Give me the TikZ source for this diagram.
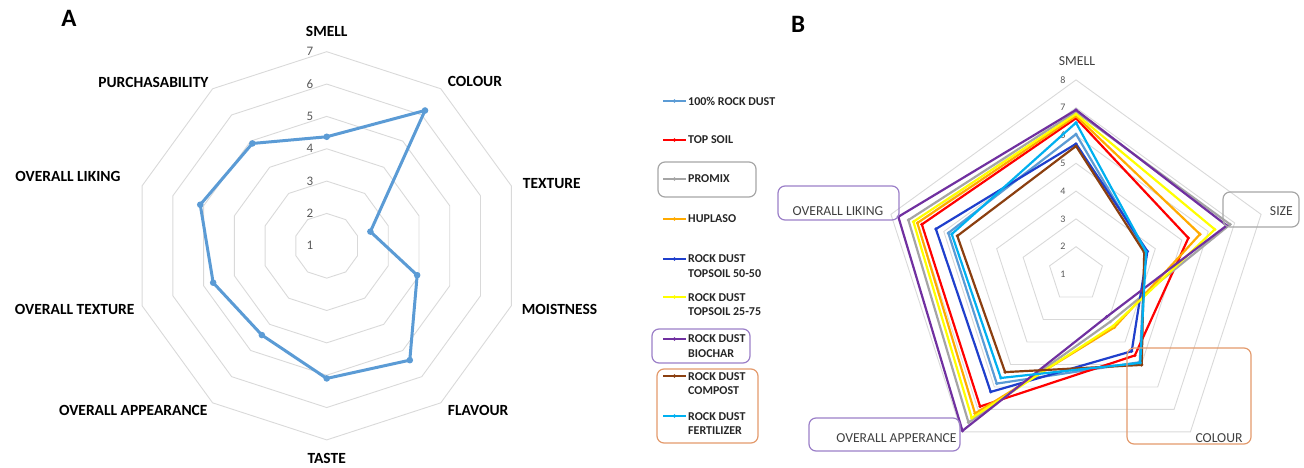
\documentclass[tikz,border=0pt]{standalone}
\usepackage{fontspec}
\setmainfont{Carlito}
\usetikzlibrary{positioning}

\definecolor{gridgray}{HTML}{D9D9D9}
\definecolor{tickgray}{HTML}{595959}
\definecolor{labelgray}{HTML}{404040}
\definecolor{rockdust}{HTML}{5B9BD5}
\definecolor{topsoil}{HTML}{FF0000}
\definecolor{promix}{HTML}{A5A5A5}
\definecolor{huplaso}{HTML}{FFAA00}
\definecolor{mixfifty}{HTML}{1F3FCC}
\definecolor{mixquarter}{HTML}{FFFF00}
\definecolor{biochar}{HTML}{7030A0}
\definecolor{compost}{HTML}{8B3F10}
\definecolor{fertilizer}{HTML}{00B0F0}
\definecolor{boxgray}{HTML}{A6A6A6}
\definecolor{boxpurple}{HTML}{9B7FC8}
\definecolor{boxorange}{HTML}{E39A6C}

\newcommand{\unitA}{32.35}
\newcommand{\unitB}{27.8}
% one series of panel B: colour, smell, size, colour axis, appearance, liking
\newcommand{\seriesB}[6]{%
  \draw[seriesline, #1] (90:{(#2-1)*\unitB}) -- (18:{(#3-1)*\unitB}) -- (-54:{(#4-1)*\unitB})
    -- (-126:{(#5-1)*\unitB}) -- (162:{(#6-1)*\unitB}) -- cycle;
  \foreach \a/\v in {90/#2,18/#3,-54/#4,-126/#5,162/#6}
    \fill[#1] (\a:{(\v-1)*\unitB}) circle (1.8);
}

\begin{document}
\begin{tikzpicture}[
    x=1pt, y=1pt,
    every node/.style={inner sep=0pt},
    grid/.style={draw=gridgray, line width=0.9pt},
    panellabel/.style={font=\fontsize{25}{30}\selectfont\bfseries},
    axislabel/.style={font=\fontsize{15.5}{18}\selectfont\bfseries},
    ticklabelA/.style={font=\fontsize{13}{15}\selectfont, text=tickgray},
    ticklabelB/.style={font=\fontsize{10}{12}\selectfont, text=tickgray},
    blabel/.style={font=\fontsize{13.7}{16}\selectfont, text=labelgray},
    legendtext/.style={font=\fontsize{12}{14.5}\selectfont\bfseries, align=left, anchor=west, text=black!85},
    seriesA/.style={draw=rockdust, line width=3pt, line join=round},
    seriesline/.style={line width=2.2pt, line join=round},
    hlbox/.style={rounded corners=7pt, line width=1.2pt}
]
\useasboundingbox (0,0) rectangle (1304,467);

% panel A
\node[panellabel] (labelA) at (69,449) {A};
\begin{scope}[shift={(326.7,221.2)}]
  \foreach \k in {2,...,7}
    \draw[grid] (90:{(\k-1)*\unitA}) \foreach \i in {1,...,9} { -- ({90-36*\i}:{(\k-1)*\unitA}) } -- cycle;
  \foreach \k in {1,...,7}
    \node[ticklabelA] (tickA\k) at (-16.7,{(\k-1)*\unitA}) {\k};
  \foreach \n/\pos/\anc/\txt in {
      smell/{(0,209)}/south/SMELL, colour/{(121,159)}/south west/COLOUR,
      texture/{(196,62.5)}/west/TEXTURE, moist/{(195,-63.5)}/west/MOISTNESS,
      flavour/{(121,-159)}/north west/FLAVOUR, taste/{(0,-207)}/north/TASTE,
      appear/{(-119,-159)}/north east/OVERALL APPEARANCE, otexture/{(-192,-63.5)}/east/OVERALL TEXTURE,
      liking/{(-206,69)}/east/OVERALL LIKING, purch/{(-118,158)}/south east/PURCHASABILITY}
    \node[axislabel, anchor=\anc] (A-\n) at \pos {\txt};
  \draw[seriesA] (90:{(4.37-1)*\unitA})
    \foreach \a/\v in {54/6.17,18/2.42,-18/3.94,-54/5.37,-90/5.1,-126/4.41,-162/4.69,162/5.11,126/4.91}
      { -- (\a:{(\v-1)*\unitA}) } -- cycle;
  \foreach \a/\v in {90/4.37,54/6.17,18/2.42,-18/3.94,-54/5.37,-90/5.1,-126/4.41,-162/4.69,162/5.11,126/4.91}
    \fill[rockdust] (\a:{(\v-1)*\unitA}) circle (3.3);
\end{scope}

% panel B
\node[panellabel] (labelB) at (798,443) {B};
\begin{scope}[shift={(1076,192.5)}]
  \foreach \k in {2,...,8}
    \draw[grid] (90:{(\k-1)*\unitB}) -- (18:{(\k-1)*\unitB}) -- (-54:{(\k-1)*\unitB})
      -- (-126:{(\k-1)*\unitB}) -- (162:{(\k-1)*\unitB}) -- cycle;
  \foreach \k in {1,...,8}
    \node[ticklabelB] (tickB\k) at (-13,{(\k-1)*\unitB}) {\k};
  \seriesB{rockdust}{6.05}{3.62}{4.9}{5.85}{5.83}
  \seriesB{topsoil}{6.62}{5.25}{4.6}{6.87}{6.83}
  \seriesB{promix}{6.85}{6.83}{3.1}{7.58}{7.34}
  \seriesB{huplaso}{6.70}{5.69}{3.35}{7.18}{7.0}
  \seriesB{mixfifty}{5.7}{3.70}{4.41}{6.22}{6.3}
  \seriesB{mixquarter}{6.77}{6.25}{3.28}{7.38}{7.15}
  \seriesB{biochar}{6.92}{6.70}{2.88}{7.95}{7.72}
  \seriesB{compost}{5.62}{3.58}{5.02}{5.34}{5.49}
  \seriesB{fertilizer}{6.46}{3.65}{4.93}{5.6}{5.7}
\end{scope}

% axis labels of panel B and their boxes
\node[blabel] (B-smell) at (1077,406) {SMELL};
\node[blabel, anchor=east] (B-size) at (1293,256) {SIZE};
\node[blabel] (B-colour) at (1219,29) {COLOUR};
\node[blabel] (B-appear) at (896.5,29) {OVERALL APPERANCE};
\node[blabel] (B-liking) at (838,256) {OVERALL LIKING};
\draw[hlbox, boxpurple] (778,247) rectangle (899,281);
\draw[hlbox, boxpurple] (809,16) rectangle (960,49);
\draw[hlbox, boxgray] (1223,240) rectangle (1299,275);
\draw[hlbox, boxorange] (1127,23) rectangle (1251,119);

% legend
\foreach \n/\col/\ly/\ty/\txt in {
    1/rockdust/366/366/{100\% ROCK DUST}, 2/topsoil/327/327/{TOP SOIL},
    3/promix/288/288/{PROMIX}, 4/huplaso/248/248/{HUPLASO},
    5/mixfifty/208/201/{ROCK DUST\\TOPSOIL 50-50}, 6/mixquarter/170/162.5/{ROCK DUST\\TOPSOIL 25-75},
    7/biochar/128/121/{ROCK DUST\\BIOCHAR}, 8/compost/91/83.5/{ROCK DUST\\COMPOST},
    9/fertilizer/51/43.5/{ROCK DUST\\FERTILIZER}} {
  \draw[\col, line width=2pt] (663,\ly) -- (686,\ly);
  \fill[\col] (674.5,\ly) circle (1.8);
  \node[legendtext] (leg\n) at (688,\ty) {\txt};
}
\draw[hlbox, boxgray] (658,270) rectangle (756,305);
\draw[hlbox, boxpurple] (652,104) rectangle (750,138);
\draw[hlbox, boxorange] (657,24) rectangle (758,98);
\end{tikzpicture}
\end{document}
